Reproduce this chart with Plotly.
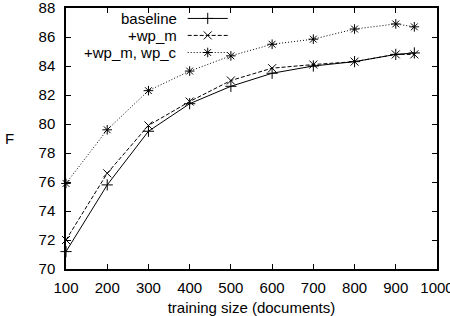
import plotly.graph_objects as go

sizes = [100, 200, 300, 400, 500, 600, 700, 800, 900, 945]
baseline = [71.2, 75.8, 79.5, 81.4, 82.6, 83.5, 84.0, 84.3, 84.8, 84.9]
wp_m = [72.0, 76.6, 79.9, 81.55, 83.0, 83.85, 84.1, 84.3, 84.8, 84.8]
wp_m_wp_c = [75.9, 79.6, 82.3, 83.65, 84.7, 85.5, 85.85, 86.55, 86.9, 86.7]
names = ["baseline", "+wp_m", "+wp_m, wp_c"]
x_ticks = [100, 200, 300, 400, 500, 600, 700, 800, 900, 1000]
y_ticks = [70, 72, 74, 76, 78, 80, 82, 84, 86, 88]

FONT = "Liberation Sans, Arial, sans-serif"
FS = 15
series = [baseline, wp_m, wp_m_wp_c]
dashes = ["solid", "4px,2px", "1px,2px"]
symbols = ["cross-thin-open", "x-thin-open", "asterisk-open"]
msize = [8, 8, 8]

fig = go.Figure()
for vals, nm, d, s, ms in zip(series, names, dashes, symbols, msize):
    fig.add_trace(go.Scatter(
        x=sizes, y=vals, mode="lines+markers", name=nm,
        line=dict(color="black", width=1, dash=d),
        marker=dict(symbol=s, size=ms, color="black", line=dict(color="black", width=1)),
        showlegend=False))

# custom gnuplot-style legend (text right, sample on the right)
leg_y = [0.960, 0.895, 0.8295]
for nm, d, s, ms, ly in zip(names, dashes, symbols, msize, leg_y):
    fig.add_trace(go.Scatter(
        x=[0.328, 0.436], y=[ly, ly], xaxis="x2", yaxis="y2", mode="lines",
        line=dict(color="black", width=1, dash=d), showlegend=False, hoverinfo="skip"))
    fig.add_trace(go.Scatter(
        x=[0.382], y=[ly], xaxis="x2", yaxis="y2", mode="markers",
        marker=dict(symbol=s, size=ms, color="black", line=dict(color="black", width=1)),
        showlegend=False, hoverinfo="skip"))
    fig.add_annotation(x=0.301, y=ly, xref="x2", yref="y2", text=nm, showarrow=False,
                       xanchor="right", yanchor="middle", borderpad=0,
                       font=dict(size=FS, color="black", family=FONT))

fig.add_annotation(x=-0.152, y=0.5, xref="paper", yref="paper", text="F", showarrow=False,
                   xanchor="center", yanchor="middle", font=dict(size=FS, color="black", family=FONT))

axis_common = dict(showgrid=False, zeroline=False, showline=True, linecolor="black", linewidth=1.5,
                   mirror="allticks", ticks="inside", ticklen=5, tickwidth=1, tickcolor="black",
                   tickfont=dict(size=FS, color="black", family=FONT), ticklabeloverflow="allow",
                   automargin=False)
fig.update_layout(
    width=450, height=316,
    margin=dict(l=66, r=13, t=8, b=47),
    plot_bgcolor="white", paper_bgcolor="white",
    xaxis=dict(range=[100, 1000], tickvals=x_ticks, ticktext=[str(v) for v in x_ticks],
               title=dict(text="training size (documents)", font=dict(size=FS, color="black", family=FONT), standoff=12),
               ticklabelstandoff=4, **axis_common),
    yaxis=dict(range=[70, 88], tickvals=y_ticks, ticktext=[str(v) for v in y_ticks],
               ticklabelstandoff=6, **axis_common),
    xaxis2=dict(overlaying="x", range=[0, 1], visible=False),
    yaxis2=dict(overlaying="y", range=[0, 1], visible=False),
)
fig.update_traces(cliponaxis=False)
fig.write_html("out.html")
